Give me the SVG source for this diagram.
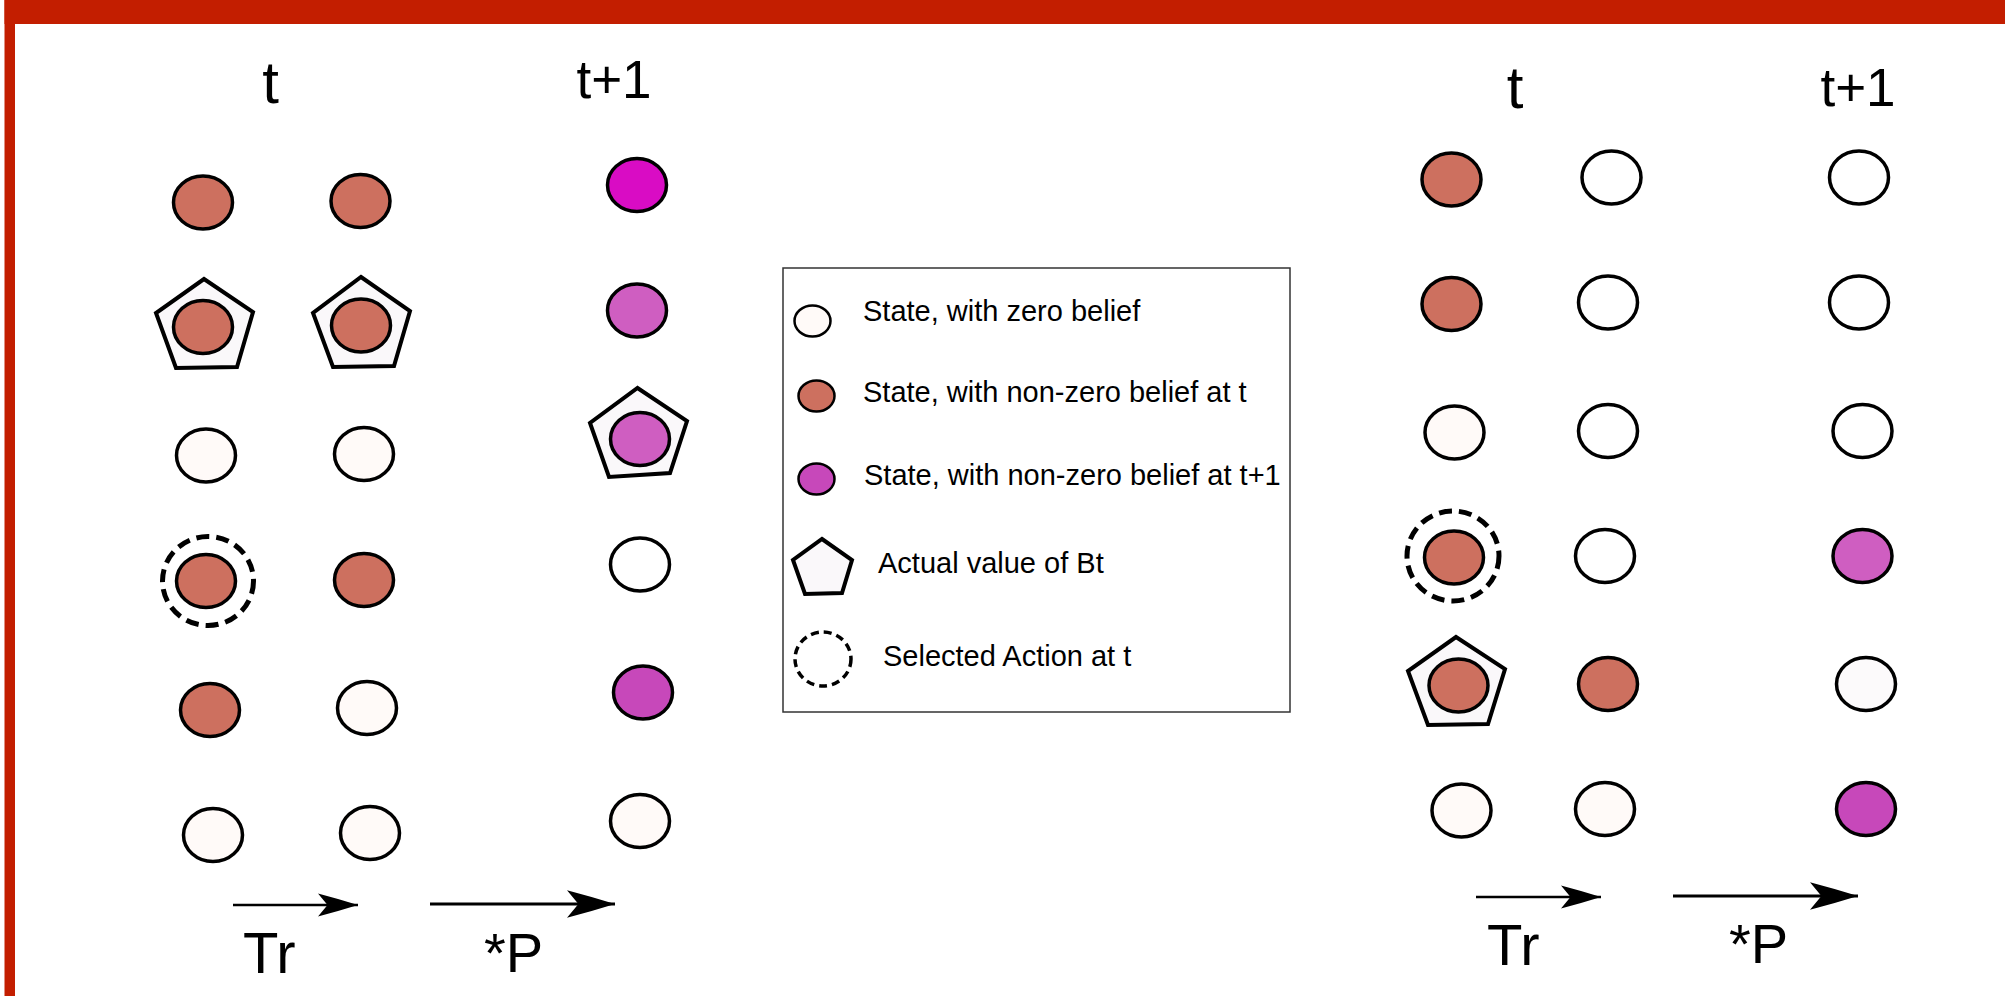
<svg xmlns="http://www.w3.org/2000/svg" width="2005" height="996" viewBox="0 0 2005 996">
<style>
.st{stroke:#000;stroke-width:3.5}
.z{fill:#FFFAF8}
.w{fill:#FFFFFF}
.nz{fill:#CD705F}
.m1{fill:#D90CC4}
.m2{fill:#CF5EC1}
.m3{fill:#C748BA}
.pent{fill:#FAF8FA;stroke:#000;stroke-width:4;stroke-linejoin:miter}
.sel{fill:none;stroke:#000;stroke-width:5;stroke-dasharray:13 7}
.hdr{font-family:"Liberation Sans",Arial,sans-serif;fill:#000;text-anchor:middle}
.lbl{font-family:"Liberation Sans",Arial,sans-serif;fill:#000}
.leg{font-family:"Liberation Sans",Arial,sans-serif;font-size:29px;fill:#000}
.arr{stroke:#000;fill:none;marker-end:url(#ah)}
</style>
<defs>
<marker id="ah" markerUnits="strokeWidth" viewBox="0 -5 16 10" refX="16" refY="0" markerWidth="16" markerHeight="10" orient="auto" overflow="visible">
<path d="M0,-4.6 Q8,-2.5 16,0 Q8,2.5 0,4.6 L3.8,0 Z" fill="#000"/>
</marker>
</defs>
<rect x="0" y="0" width="2005" height="996" fill="#FFFFFF"/>
<g id="frame">
<rect x="4.5" y="0" width="2000.5" height="24" fill="#C31E00"/>
<rect x="4.5" y="0" width="10.5" height="996" fill="#C31E00"/>
</g>
<g id="headers">
<text class="hdr" x="270.5" y="103" font-size="60">t</text>
<text class="hdr" x="614" y="98" font-size="53">t+1</text>
<text class="hdr" x="1515" y="108" font-size="60">t</text>
<text class="hdr" x="1858" y="106" font-size="53">t+1</text>
</g>
<g id="left-panel">
<g id="L-c1-r1"><ellipse class="st nz" cx="203" cy="202.5" rx="29.5" ry="26.5"/></g>
<g id="L-c1-r2"><polygon class="pent" points="204,279 253,312 237,367 176,368 156,313"/><ellipse class="st nz" cx="203" cy="327" rx="29.5" ry="26.5"/></g>
<g id="L-c1-r3"><ellipse class="st z" cx="206" cy="455.5" rx="29.5" ry="26.5"/></g>
<g id="L-c1-r4"><ellipse class="sel" cx="208" cy="581" rx="45.5" ry="44.5"/><ellipse class="st nz" cx="206" cy="581" rx="29.5" ry="26.5"/></g>
<g id="L-c1-r5"><ellipse class="st nz" cx="210" cy="710" rx="29.5" ry="26.5"/></g>
<g id="L-c1-r6"><ellipse class="st z" cx="213" cy="835" rx="29.5" ry="26.5"/></g>
<g id="L-c2-r1"><ellipse class="st nz" cx="360.5" cy="201" rx="29.5" ry="26.5"/></g>
<g id="L-c2-r2"><polygon class="pent" points="361,277 410,311 394,366 333,367 313,313"/><ellipse class="st nz" cx="361" cy="325.5" rx="29.5" ry="26.5"/></g>
<g id="L-c2-r3"><ellipse class="st z" cx="364" cy="454" rx="29.5" ry="26.5"/></g>
<g id="L-c2-r4"><ellipse class="st nz" cx="364" cy="580" rx="29.5" ry="26.5"/></g>
<g id="L-c2-r5"><ellipse class="st z" cx="367" cy="708" rx="29.5" ry="26.5"/></g>
<g id="L-c2-r6"><ellipse class="st z" cx="370" cy="833" rx="29.5" ry="26.5"/></g>
<g id="L-c3-r1"><ellipse class="st m1" cx="637" cy="185" rx="29.5" ry="26.5"/></g>
<g id="L-c3-r2"><ellipse class="st m2" cx="637" cy="310.5" rx="29.5" ry="26.5"/></g>
<g id="L-c3-r3"><polygon class="pent" points="637.5,388 687,421 670,473 609,477 590,423"/><ellipse class="st m2" cx="640" cy="439" rx="29.5" ry="26.5"/></g>
<g id="L-c3-r4"><ellipse class="st w" cx="640" cy="564.5" rx="29.5" ry="26.5"/></g>
<g id="L-c3-r5"><ellipse class="st m3" cx="643" cy="692.5" rx="29.5" ry="26.5"/></g>
<g id="L-c3-r6"><ellipse class="st z" cx="640" cy="821" rx="29.5" ry="26.5"/></g>
</g>
<g id="right-panel">
<g id="R-c1-r1"><ellipse class="st nz" cx="1451.5" cy="179.5" rx="29.5" ry="26.5"/></g>
<g id="R-c1-r2"><ellipse class="st nz" cx="1451.5" cy="304" rx="29.5" ry="26.5"/></g>
<g id="R-c1-r3"><ellipse class="st z" cx="1454.5" cy="432.5" rx="29.5" ry="26.5"/></g>
<g id="R-c1-r4"><ellipse class="sel" cx="1453" cy="556" rx="46" ry="45"/><ellipse class="st nz" cx="1454" cy="557.5" rx="29.5" ry="26.5"/></g>
<g id="R-c1-r5"><polygon class="pent" points="1456,637 1505,669 1488,724 1428,725 1408,671"/><ellipse class="st nz" cx="1458.5" cy="685.5" rx="29.5" ry="26.5"/></g>
<g id="R-c1-r6"><ellipse class="st z" cx="1461.5" cy="810.5" rx="29.5" ry="26.5"/></g>
<g id="R-c2-r1"><ellipse class="st w" cx="1611.5" cy="177.5" rx="29.5" ry="26.5"/></g>
<g id="R-c2-r2"><ellipse class="st w" cx="1608" cy="302.5" rx="29.5" ry="26.5"/></g>
<g id="R-c2-r3"><ellipse class="st w" cx="1608" cy="431" rx="29.5" ry="26.5"/></g>
<g id="R-c2-r4"><ellipse class="st w" cx="1605" cy="556" rx="29.5" ry="26.5"/></g>
<g id="R-c2-r5"><ellipse class="st nz" cx="1608" cy="684" rx="29.5" ry="26.5"/></g>
<g id="R-c2-r6"><ellipse class="st z" cx="1605" cy="809" rx="29.5" ry="26.5"/></g>
<g id="R-c3-r1"><ellipse class="st w" cx="1859" cy="177.5" rx="29.5" ry="26.5"/></g>
<g id="R-c3-r2"><ellipse class="st w" cx="1859" cy="302.5" rx="29.5" ry="26.5"/></g>
<g id="R-c3-r3"><ellipse class="st w" cx="1862.5" cy="431" rx="29.5" ry="26.5"/></g>
<g id="R-c3-r4"><ellipse class="st m2" cx="1862.5" cy="556" rx="29.5" ry="26.5"/></g>
<g id="R-c3-r5"><ellipse class="st" fill="#FCFAFB" cx="1866" cy="684" rx="29.5" ry="26.5"/></g>
<g id="R-c3-r6"><ellipse class="st m3" cx="1866" cy="809" rx="29.5" ry="26.5"/></g>
</g>
<g id="connectors">
<line class="arr" x1="233" y1="905" x2="358" y2="905" stroke-width="2.5"/>
<line class="arr" x1="430" y1="904" x2="615" y2="904" stroke-width="3"/>
<line class="arr" x1="1476" y1="897" x2="1601" y2="897" stroke-width="2.5"/>
<line class="arr" x1="1673" y1="896" x2="1858" y2="896" stroke-width="3"/>
</g>
<g id="arrow-labels">
<text class="lbl" x="243" y="973" font-size="58">Tr</text>
<text class="lbl" x="484" y="972" font-size="56">*P</text>
<text class="lbl" x="1487" y="965" font-size="58">Tr</text>
<text class="lbl" x="1729" y="963" font-size="56">*P</text>
</g>
<g id="legend">
<rect x="783" y="268" width="507" height="444" fill="#FFFFFF" stroke="#333333" stroke-width="1.5"/>
<g id="leg-zero"><ellipse class="z" stroke="#000" stroke-width="2.5" cx="812.5" cy="321" rx="18" ry="15.5"/><text class="leg" x="863" y="321">State, with zero belief</text></g>
<g id="leg-nz"><ellipse class="nz" stroke="#000" stroke-width="2.5" cx="816.5" cy="396" rx="18" ry="15.5"/><text class="leg" x="863" y="402">State, with non-zero belief at t</text></g>
<g id="leg-m"><ellipse class="m3" stroke="#000" stroke-width="2.5" cx="816.5" cy="479" rx="18" ry="15.5"/><text class="leg" x="864" y="485">State, with non-zero belief at t+1</text></g>
<g id="leg-pent"><polygon class="pent" stroke-width="2.5" points="822,539 852,560 842,593 805,594 793,560"/><text class="leg" x="878" y="573">Actual value of Bt</text></g>
<g id="leg-sel"><ellipse fill="none" stroke="#000" stroke-width="3.5" stroke-dasharray="8 5" cx="823" cy="659" rx="28" ry="27"/><text class="leg" x="883" y="666">Selected Action at t</text></g>
</g>
</svg>
